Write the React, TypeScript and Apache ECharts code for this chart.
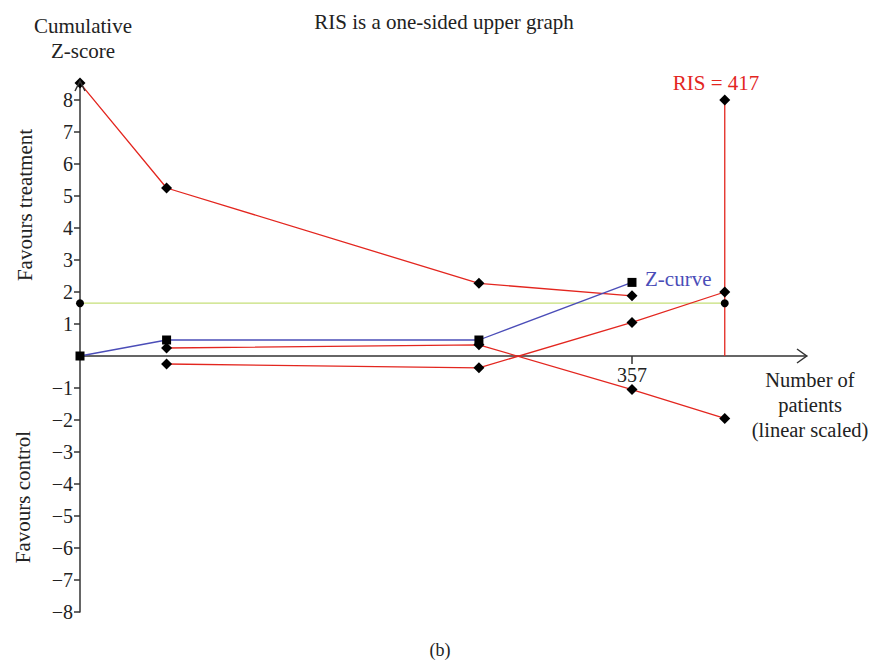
import React, { useEffect, useRef } from "react";
import * as echarts from "echarts";

const upperBoundary: [number, number][] = [[0, 8.53], [56, 5.25], [258, 2.27], [357, 1.88]];
const innerA: [number, number][] = [[56, 0.25], [258, 0.35], [357, -1.05], [417, -1.95]];
const innerB: [number, number][] = [[56, -0.25], [258, -0.37], [357, 1.05], [417, 2.0]];
const zCurve: [number, number][] = [[0, 0], [56, 0.5], [258, 0.5], [357, 2.3]];
const conventional: [number, number][] = [[0, 1.65], [417, 1.65]];
const risLine: [number, number][] = [[417, 0], [417, 8]];
const risTop: [number, number][] = [[417, 8]];
const yTicks = [-8, -7, -6, -5, -4, -3, -2, -1, 1, 2, 3, 4, 5, 6, 7, 8];
const xTicks = [357];

const RED = "#e3261f";
const BLUE = "#4b4db8";
const GREEN = "#c6df78";
const FONT = "Liberation Serif";
const FS = 21;

export default function App() {
  const ref = useRef<HTMLDivElement>(null);
  useEffect(() => {
    const chart = echarts.init(ref.current!, null, { renderer: "svg" });
    const fmt = (v: number) => (v < 0 ? "\u2212" + Math.abs(v) : String(v));
    const gridBottomY = 612;
    const zeroY = 356;
    chart.setOption({
      animation: false,
      backgroundColor: "#ffffff",
      textStyle: { fontFamily: FONT },
      grid: { left: 80, top: 80.8, width: 726.7, height: 531.2 },
      xAxis: {
        type: "value",
        min: 0,
        max: 470,
        position: "bottom",
        offset: zeroY - gridBottomY,
        splitLine: { show: false },
        axisLine: { onZero: false, lineStyle: { color: "#333", width: 1.5 } },
        axisTick: { show: true, length: 8, customValues: xTicks, lineStyle: { color: "#333", width: 1.5 } },
        axisLabel: {
          customValues: xTicks,
          color: "#222",
          fontSize: 20,
          fontFamily: FONT,
          margin: 9,
        },
      },
      yAxis: {
        type: "value",
        min: -8,
        max: 8.6,
        splitLine: { show: false },
        axisLine: { onZero: false, lineStyle: { color: "#333", width: 1.5 } },
        axisTick: { show: true, length: 6, customValues: yTicks, lineStyle: { color: "#333", width: 1.5 } },
        axisLabel: {
          customValues: yTicks,
          formatter: (v: number) => fmt(v),
          color: "#222",
          fontSize: 20,
          fontFamily: FONT,
          margin: 7,
        },
      },
      series: [
        {
          type: "line",
          data: conventional,
          symbol: "none",
          lineStyle: { color: GREEN, width: 1.2 },
          z: 1,
        },
        {
          type: "line",
          data: risLine,
          symbol: "none",
          lineStyle: { color: RED, width: 1.3 },
          z: 1,
        },
        {
          type: "line",
          data: upperBoundary,
          symbol: "diamond",
          symbolSize: 11,
          lineStyle: { color: RED, width: 1.3 },
          itemStyle: { color: "#000" },
          z: 3,
        },
        {
          type: "line",
          data: innerA,
          symbol: "diamond",
          symbolSize: 11,
          lineStyle: { color: RED, width: 1.3 },
          itemStyle: { color: "#000" },
          z: 3,
        },
        {
          type: "line",
          data: innerB,
          symbol: "diamond",
          symbolSize: 11,
          lineStyle: { color: RED, width: 1.3 },
          itemStyle: { color: "#000" },
          z: 3,
        },
        {
          type: "line",
          data: zCurve,
          symbol: "rect",
          symbolSize: 9,
          lineStyle: { color: BLUE, width: 1.3 },
          itemStyle: { color: "#000" },
          z: 4,
        },
        {
          type: "scatter",
          data: conventional,
          symbol: "circle",
          symbolSize: 8,
          itemStyle: { color: "#000", opacity: 1 },
          z: 5,
        },
        {
          type: "scatter",
          data: risTop,
          symbol: "diamond",
          symbolSize: 11,
          itemStyle: { color: "#000", opacity: 1 },
          z: 5,
        },
      ],
      graphic: [
        {
          type: "polyline",
          shape: { points: [[75, 91], [80, 81], [85, 91]] },
          style: { stroke: "#333", lineWidth: 1.5, fill: "none" },
          z: 10,
        },
        {
          type: "polyline",
          shape: { points: [[797, 349], [806.7, 356], [797, 363]] },
          style: { stroke: "#333", lineWidth: 1.5, fill: "none" },
          z: 10,
        },
        {
          type: "text",
          x: 444,
          y: 22,
          style: { text: "RIS is a one-sided upper graph", font: `${FS}px "${FONT}"`, fill: "#222", align: "center", verticalAlign: "middle" },
        },
        {
          type: "text",
          x: 83,
          y: 38,
          style: { text: "Cumulative\nZ-score", font: `${FS}px "${FONT}"`, fill: "#222", align: "center", verticalAlign: "middle", lineHeight: 25 },
        },
        {
          type: "text",
          x: 25,
          y: 205,
          rotation: Math.PI / 2,
          style: { text: "Favours treatment", font: `${FS}px "${FONT}"`, fill: "#222", align: "center", verticalAlign: "middle" },
        },
        {
          type: "text",
          x: 23,
          y: 497,
          rotation: Math.PI / 2,
          style: { text: "Favours control", font: `${FS}px "${FONT}"`, fill: "#222", align: "center", verticalAlign: "middle" },
        },
        {
          type: "text",
          x: 810,
          y: 405,
          style: { text: "Number of\npatients\n(linear scaled)", font: `20.5px "${FONT}"`, fill: "#222", align: "center", verticalAlign: "middle", lineHeight: 25 },
        },
        {
          type: "text",
          x: 716,
          y: 83,
          style: { text: "RIS = 417", font: `${FS}px "${FONT}"`, fill: RED, align: "center", verticalAlign: "middle" },
        },
        {
          type: "text",
          x: 645,
          y: 279,
          style: { text: "Z-curve", font: `${FS}px "${FONT}"`, fill: BLUE, align: "left", verticalAlign: "middle" },
        },
        {
          type: "text",
          x: 440,
          y: 650,
          style: { text: "(b)", font: `18px "${FONT}"`, fill: "#222", align: "center", verticalAlign: "middle" },
        },
      ],
    });
    return () => chart.dispose();
  }, []);
  return <div ref={ref} style={{ position: "fixed", left: 0, top: 0, width: 872, height: 660 }} />;
}
